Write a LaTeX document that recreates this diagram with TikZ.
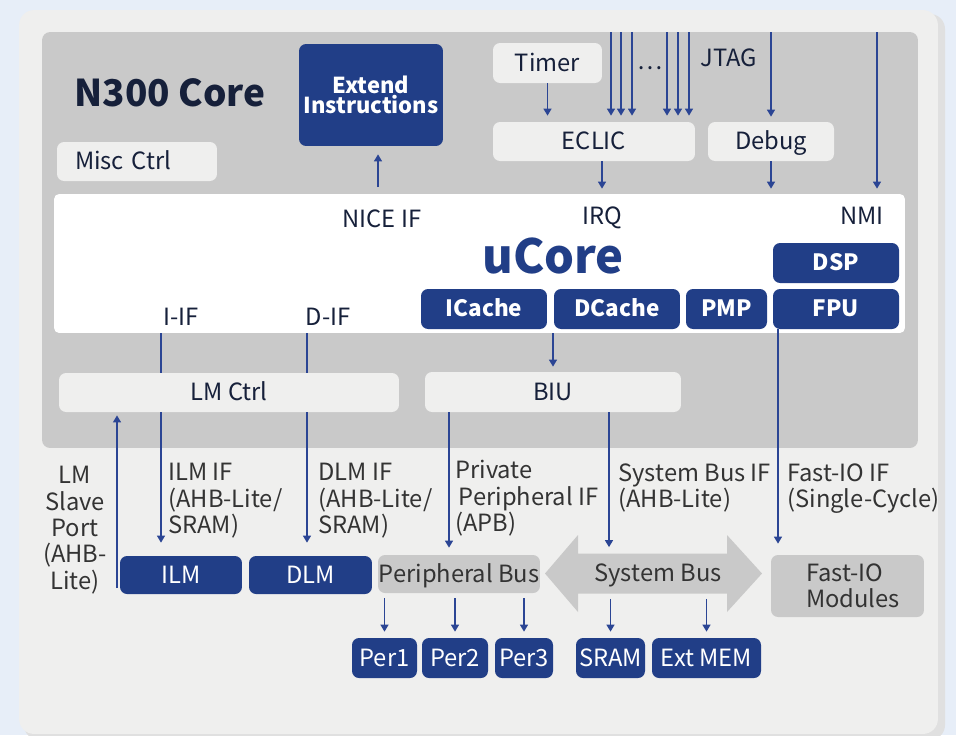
\documentclass[tikz,border=0pt]{standalone}
\usepackage{fontspec}
\setmainfont{Noto Sans CJK SC}
\usetikzlibrary{arrows.meta,positioning}
\definecolor{nblue}{HTML}{213E87}
\definecolor{nline}{HTML}{2B4594}
\definecolor{ngray}{HTML}{C9C9C9}
\definecolor{nlight}{HTML}{EFEFEE}
\definecolor{nbg}{HTML}{E7EEF8}
\definecolor{ntext}{HTML}{16203A}
\definecolor{nlabel}{HTML}{333333}
\tikzset{
  box/.style={rectangle, rounded corners=4pt, fill=nlight, text=ntext, inner sep=0pt,
    text height=9.5pt, text depth=0pt, font=\fontsize{13.5}{15}\selectfont},
  corebox/.style={box, fill=nblue, text=white, text height=8.8pt, font=\fontsize{12.8}{15}\selectfont\bfseries},
  memblock/.style={box, fill=nblue, text=white},
  busbox/.style={box, fill=ngray, text=nlabel},
  lbl/.style={text=ntext, inner sep=0pt, text height=9.5pt, text depth=0pt,
    font=\fontsize{13.5}{15}\selectfont},
  iflbl/.style={text=nlabel, inner sep=0pt, align=left, anchor=north west,
    font=\fontsize{13.5}{15}\selectfont},
  arr/.style={draw=nline, line width=0.9pt, -{Triangle[width=4.5pt,length=4pt]}},
  wire/.style={draw=nline, line width=0.9pt},
}

\begin{document}
\begin{tikzpicture}[x=0.02cm, y=-0.02cm]
  \fill[nbg] (0,0) rectangle (956,735);
  \useasboundingbox (0,0) rectangle (956,735);
  \fill[black!12, rounded corners=0.3cm] (24,14) rectangle (945,740);

  \node [fill=nlight, rounded corners=0.3cm, minimum width=18.38cm, minimum height=14.48cm] (frame) at (478.5,372) {};
  \node [fill=ngray, rounded corners=0.16cm, minimum width=17.52cm, minimum height=8.32cm] (core) at (480,240) {};
  \node [text=ntext, font=\fontsize{21}{24}\selectfont\bfseries] (title) at (170,93) {N300 Core};

  % boxes inside the core
  \node [box, minimum width=3.2cm, minimum height=0.78cm, text width=2.48cm, align=left] (misc) at (137,161.5) {Misc Ctrl};
  \node [corebox, minimum width=2.88cm, minimum height=2.04cm, align=center, text height=, text depth=,
    font=\fontsize{12.5}{11.8}\selectfont\bfseries] (ext) at (371,95) {Extend\\Instructions};
  \node [box, minimum width=2.18cm, minimum height=0.8cm] (timer) at (547.5,63) {Timer};
  \node [box, minimum width=4.04cm, minimum height=0.78cm] (eclic) at (594,141.5) {ECLIC};
  \node [box, minimum width=2.52cm, minimum height=0.78cm] (debug) at (771,141.5) {Debug};
  \node [lbl] (dots) at (650,61) {…};
  \node [lbl] (jtag) at (729,58.5) {JTAG};

  \node [fill=white, rounded corners=0.1cm, minimum width=17.02cm, minimum height=2.78cm] (ucore) at (479.5,263.5) {};
  \node [text=nblue, font=\fontsize{26.8}{30}\selectfont\bfseries] (ucorelbl) at (553,256) {uCore};
  \node [lbl] (niceif) at (382,219) {NICE IF};
  \node [lbl] (irq) at (602,216.5) {IRQ};
  \node [lbl] (nmi) at (862,216.5) {NMI};
  \node [lbl] (iif) at (181,317) {I-IF};
  \node [lbl] (dif) at (328,317) {D-IF};
  \node [corebox, minimum width=2.52cm, minimum height=0.8cm] (dsp) at (836,263) {DSP};
  \node [corebox, minimum width=2.52cm, minimum height=0.8cm] (fpu) at (836,309) {FPU};
  \node [corebox, minimum width=2.52cm, minimum height=0.8cm] (icache) at (484,309) {ICache};
  \node [corebox, minimum width=2.52cm, minimum height=0.8cm] (dcache) at (617,309) {DCache};
  \node [corebox, minimum width=1.62cm, minimum height=0.8cm] (pmp) at (726.5,309) {PMP};

  \node [box, minimum width=6.8cm, minimum height=0.78cm] (lmctrl) at (229,392.5) {LM Ctrl};
  \node [box, minimum width=5.12cm, minimum height=0.8cm] (biu) at (553,392) {BIU};

  % outside the core
  \node [memblock, minimum width=2.44cm, minimum height=0.76cm] (ilm) at (181,575) {ILM};
  \node [memblock, minimum width=2.46cm, minimum height=0.76cm] (dlm) at (310.5,575) {DLM};
  \node [busbox, minimum width=3.24cm, minimum height=0.76cm] (pbus) at (459,574) {Peripheral Bus};
  \fill[ngray] (545,573.5) -- (578,535) -- (578,553.5) -- (727,553.5) -- (727,535) -- (762,573.5)
    -- (727,612) -- (727,593.5) -- (578,593.5) -- (578,612) -- cycle;
  \node [lbl, text=nlabel, minimum height=0.8cm] (sysbus) at (658,573.5) {System Bus};
  \node [busbox, minimum width=3.06cm, minimum height=1.24cm, text width=1.66cm, align=left, text height=, text depth=,
    font=\fontsize{13.5}{14.5}\selectfont] (fastio) at (847.5,586) {Fast-IO\\Modules};
  \node [memblock, minimum width=1.3cm, minimum height=0.8cm] (per1) at (384.5,658) {Per1};
  \node [memblock, minimum width=1.32cm, minimum height=0.8cm] (per2) at (455,658) {Per2};
  \node [memblock, minimum width=1.16cm, minimum height=0.8cm] (per3) at (524,658) {Per3};
  \node [memblock, minimum width=1.38cm, minimum height=0.8cm] (sram) at (610.5,658) {SRAM};
  \node [memblock, minimum width=2.18cm, minimum height=0.8cm] (extmem) at (706.5,658) {Ext MEM};

  \node [iflbl, anchor=north, align=center] (slave) at (75,466) {LM\\Slave\\Port\\(AHB-\\Lite)};
  \node [iflbl] (ilmif) at (168,463) {ILM IF\\(AHB-Lite/\\SRAM)};
  \node [iflbl] (dlmif) at (318,463) {DLM IF\\(AHB-Lite/\\SRAM)};
  \node [iflbl] (ppif) at (455,460) {Private\\\hspace*{2pt}Peripheral IF\\(APB)};
  \node [iflbl] (sysif) at (618,463) {System Bus IF\\(AHB-Lite)};
  \node [iflbl] (fastif) at (787,463) {Fast-IO IF\\(Single-Cycle)};

  % connections
  \foreach \x in {611,621,632,667,678,689}
    \coordinate (irq\x) at (\x,32);
  \coordinate (jtagin) at (771,32);
  \coordinate (nmiin) at (877,32);
  \coordinate (nicex) at (378,187);
  \coordinate (ibus) at (161,333);
  \coordinate (dbus) at (307,333);
  \coordinate (slv) at (117,588);
  \coordinate (ppx) at (449,412);
  \coordinate (sbx) at (609,412);
  \coordinate (fiox) at (778,329);

  \foreach \x in {611,621,632,667,678,689}
    \draw[arr, shorten >=0.12cm] (irq\x) -- (irq\x |- eclic.north);
  \draw[arr, shorten >=0.12cm] (timer.south) -- (timer.south |- eclic.north);
  \draw[arr, shorten >=0.1cm] (eclic.south -| irq) -- (ucore.north -| irq);
  \draw[arr, shorten >=0.1cm] (jtagin) -- (jtagin |- debug.north);
  \draw[arr, shorten >=0.1cm] (debug.south) -- (debug.south |- ucore.north);
  \draw[arr, shorten >=0.1cm] (nmiin) -- (nmiin |- ucore.north);
  \draw[arr, shorten >=0.16cm] (nicex) -- (nicex |- ext.south);
  \draw[arr, shorten >=0.1cm] (ucore.south -| biu) -- (biu.north);

  \draw[wire] (ibus) -- (ibus |- lmctrl.north);
  \draw[arr, shorten >=0.26cm] (ibus |- lmctrl.south) -- (ibus |- ilm.north);
  \draw[wire] (dbus) -- (dbus |- lmctrl.north);
  \draw[arr, shorten >=0.26cm] (dbus |- lmctrl.south) -- (dbus |- dlm.north);
  \draw[arr, shorten >=0.06cm] (slv) -- (slv |- lmctrl.south);

  \draw[arr, shorten >=0.14cm] (ppx) -- (ppx |- pbus.north);
  \draw[arr, shorten >=0.12cm] (sbx) -- (sbx |- sysbus.north);
  \draw[arr, shorten >=0.22cm] (fiox) -- (fiox |- fastio.north);

  \foreach \p in {per1,per2,per3}
    \draw[arr, shorten <=0.1cm, shorten >=0.12cm] (pbus.south -| \p) -- (\p.north);
  \foreach \p in {sram,extmem}
    \draw[arr, shorten <=0.1cm, shorten >=0.12cm] (sysbus.south -| \p) -- (\p.north);
\end{tikzpicture}
\end{document}
